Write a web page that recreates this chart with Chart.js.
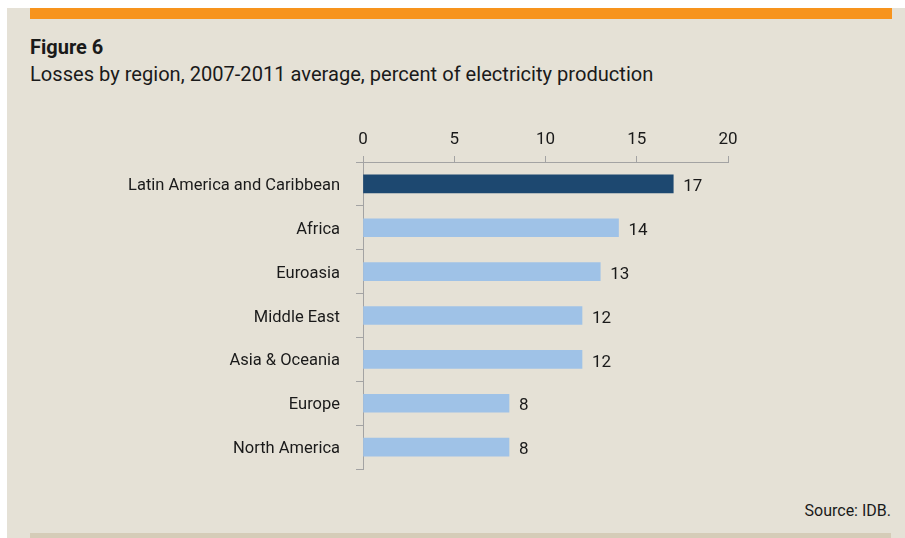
<!DOCTYPE html>
<html>
<head>
<meta charset="utf-8">
<script src="https://cdn.jsdelivr.net/npm/chart.js@4.4.2/dist/chart.umd.min.js"></script>
<style>
  html, body { margin: 0; padding: 0; background: #ffffff; }
  body { width: 905px; height: 538px; position: relative; overflow: hidden; font-family: Roboto, sans-serif; color: #1a1a1a; }
  .panel { position: absolute; left: 7px; top: 8px; width: 898px; height: 530px; background: #e5e1d6; }
  .topbar { position: absolute; left: 30px; top: 8px; width: 862px; height: 11px; background: #f7941d; }
  .bottombar { position: absolute; left: 30px; top: 533px; width: 861px; height: 5px; background: #d5ccb8; }
  .title { position: absolute; left: 30px; top: 35px; font-size: 20px; font-weight: 700; line-height: 24px; }
  .subtitle { position: absolute; left: 30px; top: 62px; font-size: 20.1px; line-height: 24px; }
  .source { position: absolute; right: 14px; top: 500px; font-size: 16px; line-height: 22px; }
  #chart { position: absolute; left: 0; top: 0; }
</style>
</head>
<body>
<div class="panel"></div>
<div class="topbar"></div>
<div class="bottombar"></div>
<div class="title">Figure 6</div>
<div class="subtitle">Losses by region, 2007-2011 average, percent of electricity production</div>
<div class="source">Source: IDB.</div>
<canvas id="chart" width="905" height="538"></canvas>
<script>
// Regions and their losses (percent of electricity production)
const regions = ['Latin America and Caribbean', 'Africa', 'Euroasia', 'Middle East', 'Asia & Oceania', 'Europe', 'North America'];
const losses = [17, 14, 13, 12, 12, 8, 8];
const axisTicks = [0, 5, 10, 15, 20];

const highlightColor = '#1d4870';
const barColor = '#9fc2e7';
const axisColor = '#a3a3a3';
const textColor = '#1a1a1a';

// Writes the value to the right of each bar
const valueLabels = {
    id: 'valueLabels',
    afterDatasetsDraw(chart) {
        const ctx = chart.ctx;
        const meta = chart.getDatasetMeta(0);
        ctx.save();
        ctx.font = '17px Roboto, sans-serif';
        ctx.fillStyle = textColor;
        ctx.textAlign = 'left';
        ctx.textBaseline = 'middle';
        meta.data.forEach((bar, i) => {
            ctx.fillText(String(losses[i]), bar.x + 10, bar.y + 3);
        });
        ctx.restore();
    }
};

new Chart(document.getElementById('chart'), {
    type: 'bar',
    data: {
        labels: regions,
        datasets: [{
            data: losses,
            backgroundColor: losses.map((v, i) => i === 0 ? highlightColor : barColor),
            barThickness: 18
        }]
    },
    options: {
        indexAxis: 'y',
        responsive: false,
        animation: false,
        layout: { padding: { top: 100, right: 177, bottom: 69, left: 0 } },
        plugins: {
            legend: { display: false },
            tooltip: { enabled: false }
        },
        scales: {
            x: {
                position: 'top',
                min: 0,
                max: 20,
                afterBuildTicks: scale => { scale.ticks = axisTicks.map(v => ({ value: v })); },
                afterFit: scale => { scale.height = 62; },
                ticks: {
                    padding: 6,
                    color: textColor,
                    font: { family: 'Roboto', size: 17 }
                },
                grid: { drawOnChartArea: false, tickLength: 6, color: axisColor },
                border: { color: axisColor }
            },
            y: {
                afterFit: scale => { scale.width = 363; },
                ticks: {
                    padding: 16,
                    labelOffset: 2,
                    color: textColor,
                    font: { family: 'Roboto', size: 16.5 }
                },
                grid: { drawOnChartArea: false, tickLength: 7, color: axisColor, offset: true },
                border: { color: axisColor }
            }
        }
    },
    plugins: [valueLabels]
});
</script>
</body>
</html>
